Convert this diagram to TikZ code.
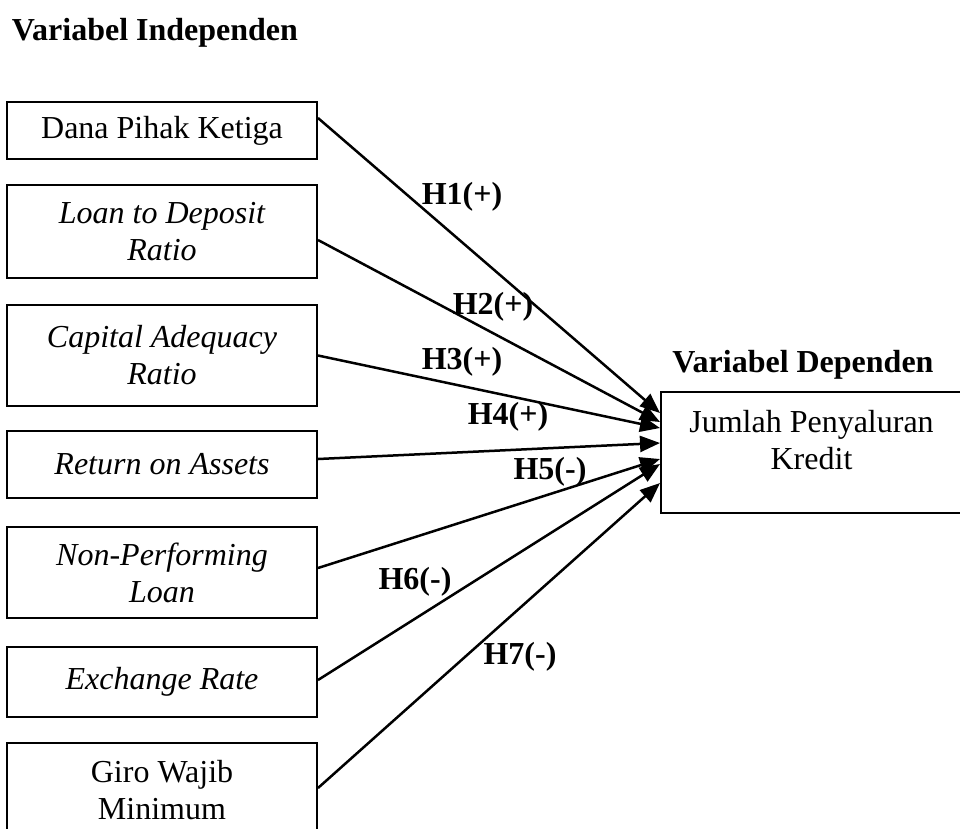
\documentclass[tikz,border=0pt]{standalone}
\usepackage{fontspec}
\setmainfont{Liberation Serif}
\usetikzlibrary{arrows.meta,positioning}

\begin{document}
\begin{tikzpicture}[x=1pt,y=-1pt,->,>={Triangle[length=20pt,width=16pt]},
  font=\fontsize{32}{37}\selectfont,
  var/.style={draw,-,line width=2pt,minimum width=310pt,align=center,inner sep=0pt},
  itvar/.style={var,font=\fontsize{32}{37}\selectfont\itshape},
  hyp/.style={font=\fontsize{32}{37}\selectfont\bfseries},
  arr/.style={line width=2.5pt}]

\useasboundingbox (0,0) rectangle (960,828);
\clip (0,0) rectangle (960,828);

\node[hyp,anchor=base] (indep) at (155,40) {Variabel Independen};
\node[hyp,anchor=base] (dep) at (803,372) {Variabel Dependen};

\node[var,minimum height=57pt] (dpk) at (162,130.5) {Dana Pihak Ketiga};
\node[itvar,minimum height=93pt] (ldr) at (162,231.5) {Loan to Deposit\\Ratio};
\node[itvar,minimum height=101pt] (car) at (162,355.5) {Capital Adequacy\\Ratio};
\node[itvar,minimum height=67pt] (roa) at (162,464.5) {Return on Assets};
\node[itvar,minimum height=91pt] (npl) at (162,572.5) {Non-Performing\\Loan};
\node[itvar,minimum height=70pt] (kurs) at (162,682) {Exchange Rate};
\node[var,minimum height=94pt] (gwm) at (162,790) {Giro Wajib\\Minimum};

\node[var,minimum width=301pt,minimum height=121pt,
  label={[align=center,yshift=12pt]center:Jumlah Penyaluran\\Kredit}] (jpk) at (811.5,452.5) {};

\draw[arr] ([yshift=12.5pt]dpk.east) -- ([yshift=39.5pt]jpk.west);
\draw[arr] ([yshift=-8.5pt]ldr.east) -- ([yshift=30.5pt]jpk.west);
\draw[arr] (car.east) -- ([yshift=24.5pt]jpk.west);
\draw[arr] ([yshift=5.5pt]roa.east) -- ([yshift=9.5pt]jpk.west);
\draw[arr] ([yshift=4.5pt]npl.east) -- ([yshift=-6.5pt]jpk.west);
\draw[arr] ([yshift=2pt]kurs.east) -- ([yshift=-11.5pt]jpk.west);
\draw[arr] ([yshift=2pt]gwm.east) -- ([yshift=-30.5pt]jpk.west);

\node[hyp] (h1) at (462,197) {H1(+)};
\node[hyp] (h2) at (493,307) {H2(+)};
\node[hyp] (h3) at (462,362) {H3(+)};
\node[hyp] (h4) at (508,417) {H4(+)};
\node[hyp] (h5) at (550,472) {H5(-)};
\node[hyp] (h6) at (415,582) {H6(-)};
\node[hyp] (h7) at (520,657) {H7(-)};
\end{tikzpicture}
\end{document}
